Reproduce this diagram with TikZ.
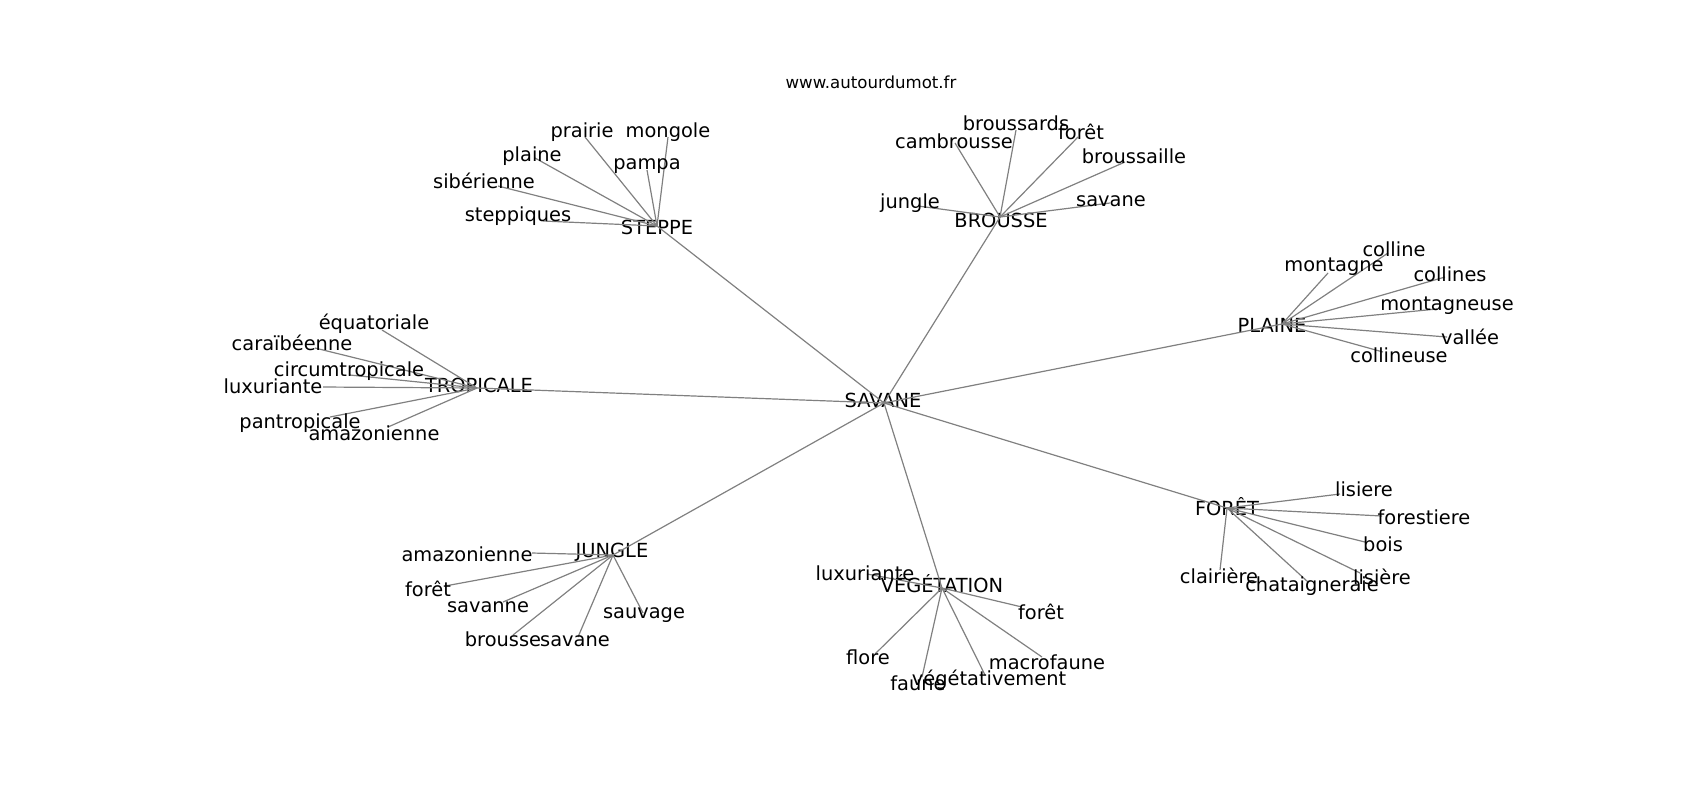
\documentclass[tikz,border=0pt]{standalone}
\usepackage{fontspec}
\setmainfont{DejaVu Sans}
\usepackage{tikz}

\tikzset{
    mot/.style={inner sep=0pt, font=\fontsize{9.7}{11}\selectfont},
    lien/.style={draw=gray, line width=0.6pt}
}

\begin{document}
\begin{tikzpicture}[x=0.5pt, y=-0.5pt]
    \useasboundingbox (0,0) rectangle (1700,800);

    % Titre
    \node[inner sep=0pt, font=\fontsize{8.3}{10}\selectfont] (titre) at (871,82) {www.autourdumot.fr};

    % Centres
    \foreach \nom/\ax/\ay/\bx/\by/\txt in {
        savane/884/403/883/400/SAVANE,
        steppe/657/226/657/227/STEPPE,
        brousse/1000/217/1001/220/BROUSSE,
        plaine/1282/324/1272/325/PLAINE,
        tropicale/477/388/479/385/TROPICALE,
        foret/1227/508/1227/507/FORÊT,
        vegetation/942/588/942/584/VÉGÉTATION,
        jungle/613/555/612/552/JUNGLE}{
        \coordinate (\nom) at (\ax,\ay);
        \node[mot] (\nom-txt) at (\bx,\by) {\txt};
    }
    \foreach \h in {steppe,brousse,plaine,tropicale,foret,vegetation,jungle}
        \draw[lien] (savane) -- (\h);

    % Steppe
    \foreach \nom/\ax/\ay/\bx/\by/\txt in {
        st-prairie/585/137/582/132/prairie,
        st-mongole/668/137/668/132/mongole,
        st-plaine/535/158/532/156/plaine,
        st-pampa/647/170/647/166/pampa,
        st-siberienne/498/186/484/181/sibérienne,
        st-steppiques/543/221/518/216/steppiques}{
        \coordinate (\nom) at (\ax,\ay);
        \draw[lien] (steppe) -- (\nom);
        \node[mot] (\nom-txt) at (\bx,\by) {\txt};
    }

    % Brousse
    \foreach \nom/\ax/\ay/\bx/\by/\txt in {
        br-broussards/1016/130/1016/123/broussards,
        br-cambrousse/955/143/954/141/cambrousse,
        br-foret/1078/137/1081/132/forêt,
        br-broussaille/1125/162/1134/156/broussaille,
        br-jungle/918/206/910/203/jungle,
        br-savane/1110/203/1111/201/savane}{
        \coordinate (\nom) at (\ax,\ay);
        \draw[lien] (brousse) -- (\nom);
        \node[mot] (\nom-txt) at (\bx,\by) {\txt};
    }

    % Plaine
    \foreach \nom/\ax/\ay/\bx/\by/\txt in {
        pl-colline/1388/253/1394/249/colline,
        pl-montagne/1328/273/1334/267/montagne,
        pl-collines/1445/277/1450/274/collines,
        pl-montagneuse/1437/309/1447/306/montagneuse,
        pl-vallee/1447/337/1470/337/vallée,
        pl-collineuse/1383/352/1399/355/collineuse}{
        \coordinate (\nom) at (\ax,\ay);
        \draw[lien] (plaine) -- (\nom);
        \node[mot] (\nom-txt) at (\bx,\by) {\txt};
    }

    % Tropicale
    \foreach \nom/\ax/\ay/\bx/\by/\txt in {
        tr-equatoriale/382/330/374/324/équatoriale,
        tr-caraibeenne/315/348/292/343/caraïbéenne,
        tr-circum/350/375/349/371/circumtropicale,
        tr-luxuriante/323/387/273/386/luxuriante,
        tr-pantropicale/330/417/300/423/pantropicale,
        tr-amazonienne/388/427/374/433/amazonienne}{
        \coordinate (\nom) at (\ax,\ay);
        \draw[lien] (tropicale) -- (\nom);
        \node[mot] (\nom-txt) at (\bx,\by) {\txt};
    }

    % Jungle
    \foreach \nom/\ax/\ay/\bx/\by/\txt in {
        ju-amazonienne/532/553/467/554/amazonienne,
        ju-foret/445/586/428/589/forêt,
        ju-savanne/503/602/488/607/savanne,
        ju-brousse/513/635/503/639/brousse,
        ju-savane/578/637/575/641/savane,
        ju-sauvage/643/613/644/615/sauvage}{
        \coordinate (\nom) at (\ax,\ay);
        \draw[lien] (jungle) -- (\nom);
        \node[mot] (\nom-txt) at (\bx,\by) {\txt};
    }

    % Vegetation
    \foreach \nom/\ax/\ay/\bx/\by/\txt in {
        ve-luxuriante/867/574/865/573/luxuriante,
        ve-foret/1022/607/1041/612/forêt,
        ve-flore/875/654/868/657/flore,
        ve-faune/922/677/918/683/faune,
        ve-vegetativement/985/675/989/680/végétativement,
        ve-macrofaune/1042/657/1047/662/macrofaune}{
        \coordinate (\nom) at (\ax,\ay);
        \draw[lien] (vegetation) -- (\nom);
        \node[mot] (\nom-txt) at (\bx,\by) {\txt};
    }

    % Foret
    \foreach \nom/\ax/\ay/\bx/\by/\txt in {
        fo-lisiere/1340/494/1364/489/lisiere,
        fo-forestiere/1382/516/1424/517/forestiere,
        fo-bois/1365/542/1383/544/bois,
        fo-lisiere2/1360/573/1382/577/lisière,
        fo-chataigneraie/1308/582/1312/586/chataigneraie,
        fo-clairiere/1220/570/1219/576/clairière}{
        \coordinate (\nom) at (\ax,\ay);
        \draw[lien] (foret) -- (\nom);
        \node[mot] (\nom-txt) at (\bx,\by) {\txt};
    }
\end{tikzpicture}
\end{document}
